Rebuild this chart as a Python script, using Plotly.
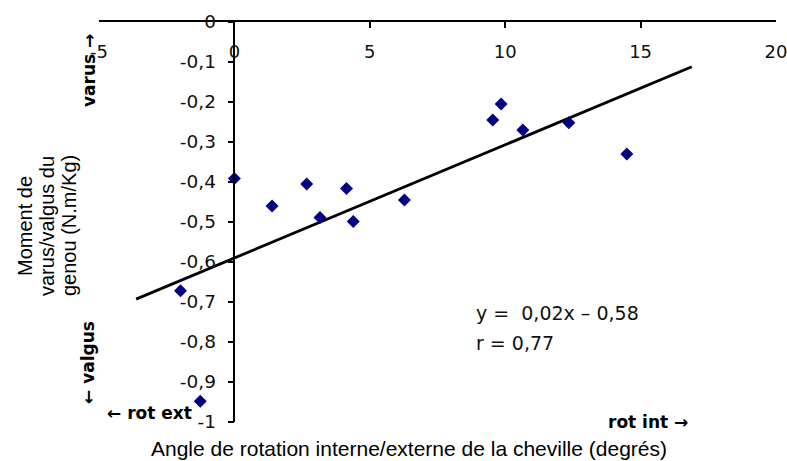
import plotly.graph_objects as go

# Data
angle = [0.0, 1.39, 2.67, 3.16, 4.14, 4.39, 6.28, 9.54, 9.85, 10.65, 12.35, 14.49, -1.99, -1.26]
moment = [-0.391, -0.46, -0.405, -0.489, -0.416, -0.499, -0.445, -0.245, -0.205, -0.27, -0.252, -0.33, -0.672, -0.948]

trend_slope = 0.0283
trend_intercept = -0.59
trend_x = [-3.63, 16.89]
trend_y = [trend_slope * v + trend_intercept for v in trend_x]

x_tickvals = [-5, 0, 5, 10, 15, 20]
x_ticktext = ["-5", "0", "5", "10", "15", "20"]
y_tickvals = [0, -0.1, -0.2, -0.3, -0.4, -0.5, -0.6, -0.7, -0.8, -0.9, -1]
y_ticktext = ["0", "-0,1", "-0,2", "-0,3", "-0,4", "-0,5", "-0,6", "-0,7", "-0,8", "-0,9", "-1"]

FONT = "Liberation Sans, Arial, sans-serif"
TICKFONT = "DejaVu Sans, sans-serif"

fig = go.Figure()
fig.add_trace(go.Scatter(
    x=trend_x, y=trend_y, mode="lines",
    line=dict(color="black", width=2.8), hoverinfo="skip", showlegend=False))
fig.add_trace(go.Scatter(
    x=angle, y=moment, mode="markers",
    marker=dict(symbol="diamond", size=10, color="#000080"),
    showlegend=False, cliponaxis=False))

fig.update_layout(
    width=787, height=461,
    margin=dict(l=99, r=11, t=22, b=39),
    paper_bgcolor="white", plot_bgcolor="white",
    font=dict(family=FONT, size=17, color="black"),
    xaxis=dict(
        range=[-5, 20], side="top", showgrid=False, zeroline=False,
        automargin=False,
        showline=True, linecolor="black", linewidth=1.5,
        ticks="inside", ticklen=6, tickcolor="black", tickwidth=1.5,
        tickvals=x_tickvals, ticktext=x_ticktext,
        ticklabelposition="inside", ticklabeloverflow="allow",
        ticklabelstandoff=18,
        tickfont=dict(size=18, family=TICKFONT, color="#111"),
    ),
    yaxis=dict(
        range=[-1, 0], anchor="free", position=0.2,
        automargin=False,
        showgrid=False, zeroline=False,
        showline=True, linecolor="black", linewidth=1.5,
        ticks="outside", ticklen=6, tickcolor="black", tickwidth=1.5,
        tickvals=y_tickvals, ticktext=y_ticktext,
        ticklabelstandoff=8,
        tickfont=dict(size=18.5, family=TICKFONT, color="#111"),
    ),
)

def px_to_paper(px, py):
    return (px - 99) / 677.0, (422 - py) / 400.0

annots = []
# Axis titles
x, y = px_to_paper(409, 448)
annots.append(dict(x=x, y=y, text="Angle de rotation interne/externe de la cheville (degrés)",
                   font=dict(size=21, family=FONT)))
for line, cx in [("Moment de", 25), ("varus/valgus du", 47), ("genou (N.m/Kg)", 69)]:
    x, y = px_to_paper(cx, 226)
    annots.append(dict(x=x, y=y, text=line, textangle=-90, font=dict(size=20, family=FONT)))
# Bold direction labels
BOLD = "DejaVu Sans, sans-serif"
for txt, cx, cy, ang in [("varus →", 89, 71, -90), ("← valgus", 88, 363, -90),
                         ("← rot ext", 149, 413, 0), ("rot int →", 648, 422, 0)]:
    x, y = px_to_paper(cx, cy)
    annots.append(dict(x=x, y=y, text="<b>" + txt + "</b>", textangle=ang,
                       font=dict(size=17, family=BOLD)))
# Equation
for txt, cy in [("y = \u00a00,02x – 0,58", 313), ("r = 0,77", 343)]:
    x, y = px_to_paper(474, cy)
    annots.append(dict(x=x, y=y, text=txt, xanchor="left",
                       font=dict(size=19, family=TICKFONT, color="#111")))

for a in annots:
    a.setdefault("xanchor", "center")
    a.update(xref="paper", yref="paper", showarrow=False, yanchor="middle")
fig.update_layout(annotations=annots)

fig.write_html(
    "out.html",
    config={"displayModeBar": False},
    post_script="document.body.style.margin='0';document.body.style.padding='0';"
                "document.body.style.overflow='hidden';",
)
